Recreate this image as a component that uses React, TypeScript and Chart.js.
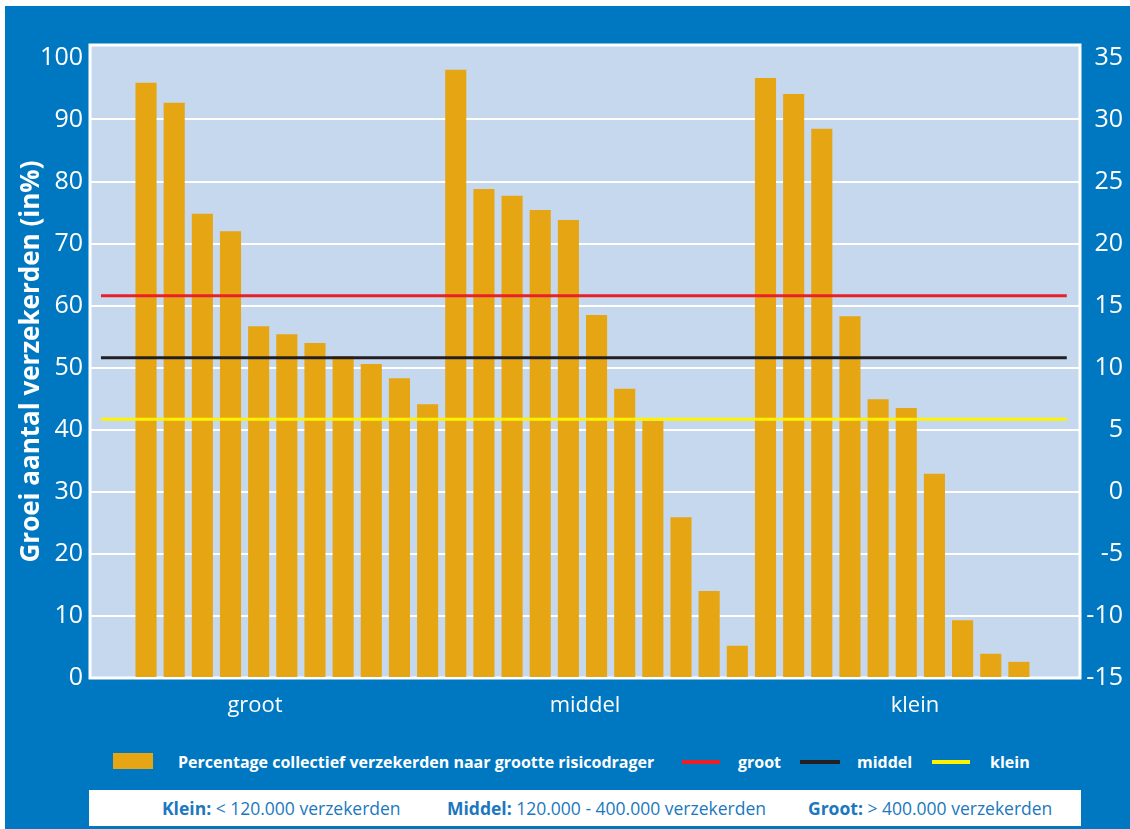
import React, { useEffect, useRef } from 'react';
import { Chart, registerables } from 'chart.js';

Chart.register(...registerables);

// Size classes of the risk carriers (x-axis group labels)
const groupLabels = ['groot', 'middel', 'klein'];

// Percentage collectively insured per risk carrier, ordered groot → middel → klein
const collectiefGroot = [95.9, 92.7, 74.8, 72.0, 56.7, 55.4, 54.0, 51.9, 50.6, 48.3, 44.1];
const collectiefMiddel = [98.0, 78.8, 77.7, 75.4, 73.8, 58.5, 46.6, 41.4, 25.9, 14.0, 5.2];
const collectiefKlein = [96.7, 94.1, 88.5, 58.3, 44.9, 43.5, 32.9, 9.3, 3.9, 2.6];

// Growth of the number of insured per size class (right axis, %)
const groeiGroot = 15.8;
const groeiMiddel = 10.8;
const groeiKlein = 5.85;

// Axis ranges
const leftAxisRange = [0, 102];
const leftStep = 10;
const rightAxisRange = [-15, 36];
const rightStep = 5;
// Horizontal extent of the reference lines, in bar-index units
const lineSpan = [-1.6, 32.7];
// Bar-index axis extent
const barIndexRange = [-1.99, 33.17];

const BLUE = '#0077c1';
const PLOT_BG = '#c6d8ee';
const BAR = '#e6a614';
const RED = '#e8202a';
const BLACK = '#231f20';
const YELLOW = '#fff200';
const TEXT_BLUE = '#1b78be';

const TICK_FONT = { family: "'Open Sans', sans-serif", size: 25 };

const plotFrame = {
  id: 'plotFrame',
  beforeDraw(chart: any) {
    const { ctx, chartArea } = chart;
    ctx.save();
    ctx.fillStyle = PLOT_BG;
    ctx.fillRect(chartArea.left, chartArea.top, chartArea.width, chartArea.height);
    ctx.restore();
  },
  beforeDatasetsDraw(chart: any) {
    const { ctx, chartArea } = chart;
    ctx.save();
    ctx.strokeStyle = '#ffffff';
    ctx.lineWidth = 3;
    ctx.strokeRect(chartArea.left, chartArea.top, chartArea.width, chartArea.height);
    ctx.restore();
  },
};

function ChartCanvas() {
  const ref = useRef<HTMLCanvasElement | null>(null);

  useEffect(() => {
    if (!ref.current) return;
    const bars = [...collectiefGroot, ...collectiefMiddel, ...collectiefKlein];
    const refLine = (label: string, value: number, color: string) => ({
      type: 'line' as const,
      label,
      data: lineSpan.map((x) => ({ x, y: value })),
      borderColor: color,
      borderWidth: 3,
      pointRadius: 0,
      fill: false,
      xAxisID: 'xb',
      yAxisID: 'yr',
      order: 0,
    });

    const chart = new Chart(ref.current, {
      type: 'bar',
      data: {
        labels: groupLabels,
        datasets: [
          {
            type: 'bar',
            label: 'Percentage collectief verzekerden naar grootte risicodrager',
            data: bars.map((y, i) => ({ x: i, y })),
            backgroundColor: BAR,
            borderWidth: 0,
            categoryPercentage: 1,
            barPercentage: 0.75,
            xAxisID: 'xb',
            yAxisID: 'y',
            order: 1,
          } as any,
          refLine('groot', groeiGroot, RED),
          refLine('middel', groeiMiddel, BLACK),
          refLine('klein', groeiKlein, YELLOW),
        ],
      },
      options: {
        animation: false,
        responsive: false,
        layout: { padding: { left: 0, top: 45, right: 7, bottom: 0 } },
        plugins: {
          legend: { display: false },
          tooltip: { enabled: false },
        },
        scales: {
          x: {
            type: 'category',
            position: 'bottom',
            offset: true,
            grid: { display: false, drawTicks: false },
            border: { display: false },
            ticks: {
              color: '#ffffff',
              padding: 15,
              font: { family: "'Open Sans', sans-serif", size: 22 },
            },
            afterFit: (s: any) => {
              s.height = 62;
            },
          },
          xb: {
            type: 'linear',
            display: false,
            offset: false,
            min: barIndexRange[0],
            max: barIndexRange[1],
            grid: { offset: false },
          },
          y: {
            type: 'linear',
            position: 'left',
            min: leftAxisRange[0],
            max: leftAxisRange[1],
            border: { display: false },
            grid: {
              drawTicks: false,
              lineWidth: 2,
              color: (c: any) =>
                c.tick && (c.tick.value === 0 || c.tick.value === 100) ? 'rgba(0,0,0,0)' : '#ffffff',
            },
            ticks: {
              stepSize: leftStep,
              includeBounds: false,
              color: '#ffffff',
              padding: 7,
              font: TICK_FONT,
            },
            title: {
              display: true,
              text: 'Groei aantal verzekerden (in%)',
              color: '#ffffff',
              padding: { top: 16, bottom: 0 },
              font: { family: "'Open Sans', sans-serif", size: 26, weight: 'bold' },
            },
            afterFit: (s: any) => {
              s.width = 90;
            },
          },
          yr: {
            type: 'linear',
            position: 'right',
            min: rightAxisRange[0],
            max: rightAxisRange[1],
            border: { display: false },
            grid: { display: false, drawTicks: false },
            ticks: {
              stepSize: rightStep,
              includeBounds: false,
              crossAlign: 'far',
              color: '#ffffff',
              padding: 7,
              font: TICK_FONT,
            },
            afterFit: (s: any) => {
              s.width = 43;
            },
          },
        },
      } as any,
      plugins: [plotFrame],
    });

    return () => chart.destroy();
  }, []);

  return <canvas ref={ref} width={1130} height={740} style={{ position: 'absolute', left: 0, top: 0 }} />;
}

const legendText: React.CSSProperties = {
  position: 'absolute',
  top: 750,
  height: 24,
  lineHeight: '24px',
  color: '#ffffff',
  fontFamily: "'Open Sans', sans-serif",
  fontWeight: 700,
  fontSize: 16,
  whiteSpace: 'nowrap',
};

const swatchLine = (left: number, width: number, color: string): React.CSSProperties => ({
  position: 'absolute',
  left,
  top: 760,
  width,
  height: 4,
  background: color,
});

const noteText: React.CSSProperties = {
  position: 'absolute',
  top: 0,
  height: 36,
  lineHeight: '36px',
  color: TEXT_BLUE,
  fontFamily: "'Open Sans', sans-serif",
  fontSize: 17.5,
  whiteSpace: 'nowrap',
};

export default function App() {
  return (
    <div
      style={{
        position: 'absolute',
        left: 0,
        top: 0,
        width: 1130,
        height: 829,
        background: '#ffffff',
        overflow: 'hidden',
      }}
    >
      <div style={{ position: 'absolute', left: 5, top: 6, right: 0, bottom: 0, background: BLUE }} />
      <ChartCanvas />

      <div style={{ position: 'absolute', left: 113, top: 753, width: 40, height: 16, background: BAR }} />
      <div style={{ ...legendText, left: 178 }}>Percentage collectief verzekerden naar grootte risicodrager</div>
      <div style={swatchLine(682, 38, RED)} />
      <div style={{ ...legendText, left: 738 }}>groot</div>
      <div style={swatchLine(800, 40, BLACK)} />
      <div style={{ ...legendText, left: 857 }}>middel</div>
      <div style={swatchLine(932, 38, YELLOW)} />
      <div style={{ ...legendText, left: 990 }}>klein</div>

      <div style={{ position: 'absolute', left: 89, top: 790, width: 992, height: 36, background: '#ffffff' }}>
        <div style={{ ...noteText, left: 73 }}>
          <b>Klein:</b> &lt; 120.000 verzekerden
        </div>
        <div style={{ ...noteText, left: 358 }}>
          <b>Middel:</b> 120.000 - 400.000 verzekerden
        </div>
        <div style={{ ...noteText, left: 719 }}>
          <b>Groot:</b> &gt; 400.000 verzekerden
        </div>
      </div>
    </div>
  );
}
